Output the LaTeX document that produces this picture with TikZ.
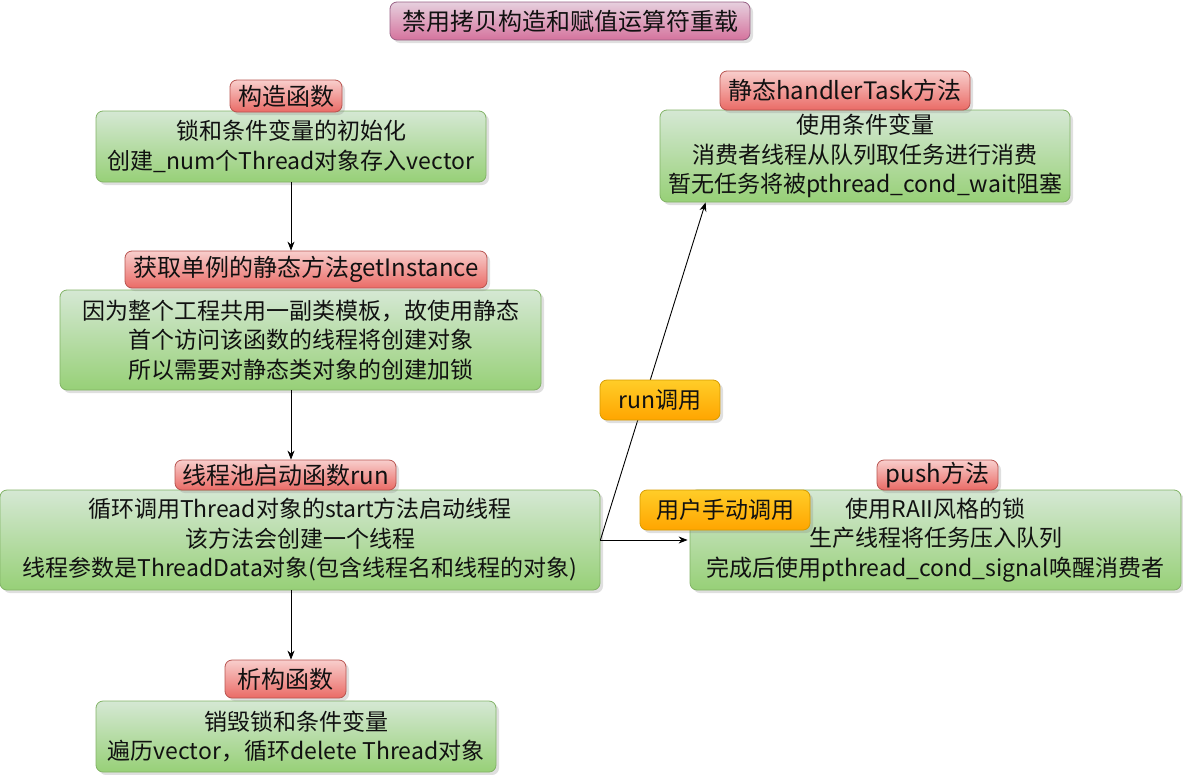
\documentclass[tikz,border=0pt]{standalone}
\usepackage{fontspec}
\setmainfont{Noto Sans CJK SC}
\usetikzlibrary{shadows,arrows.meta,calc}
\definecolor{gtop}{HTML}{D5E8D4}
\definecolor{gbot}{HTML}{97D077}
\definecolor{gline}{HTML}{82B366}
\definecolor{rtop}{HTML}{F8CECC}
\definecolor{rbot}{HTML}{EA6B66}
\definecolor{rline}{HTML}{B85450}
\definecolor{ptop}{HTML}{E6D0DE}
\definecolor{pbot}{HTML}{D5739D}
\definecolor{pline}{HTML}{996185}
\definecolor{otop}{HTML}{FFCD28}
\definecolor{obot}{HTML}{FFA500}
\definecolor{oline}{HTML}{D79B00}
\definecolor{txt}{HTML}{111111}
\tikzset{
  base/.style={rectangle, rounded corners=7pt, inner sep=0pt, align=center, text=txt, line width=0.8pt,
    drop shadow={opacity=0.25, shadow xshift=3pt, shadow yshift=-3pt}},
  gbox/.style={base, draw=gline, top color=gtop, bottom color=gbot, font=\fontsize{23}{29.5}\selectfont},
  rlab/.style={base, draw=rline, top color=rtop, bottom color=rbot, font=\fontsize{24}{28}\selectfont},
  plab/.style={base, draw=pline, top color=ptop, bottom color=pbot, font=\fontsize{24}{28}\selectfont},
  olab/.style={base, draw=oline, top color=otop, bottom color=obot, font=\fontsize{23}{27}\selectfont},
  conn/.style={draw=black, line width=0.9pt, -{Stealth[length=9pt,width=7pt]}}
}
\begin{document}
\begin{tikzpicture}[x=1pt,y=-1pt]
\useasboundingbox (0,0) rectangle (1183,774);
\node[plab, minimum width=360, minimum height=38] (title) at (570,21) {禁用拷贝构造和赋值运算符重载};

\node[gbox, minimum width=390, minimum height=71] (b1) at (291,146.5) {锁和条件变量的初始化\\创建\_num个Thread对象存入vector};
\node[rlab, minimum width=112, minimum height=32] (l1) at (286,96) {构造函数};

\node[gbox, minimum width=481, minimum height=100] (b2) at (300.5,340) {因为整个工程共用一副类模板，故使用静态\\首个访问该函数的线程将创建对象\\所以需要对静态类对象的创建加锁};
\node[rlab, minimum width=362, minimum height=37] (l2) at (306,269.5) {获取单例的静态方法getInstance};

\node[gbox, minimum width=600, minimum height=100] (b3) at (300,540) {循环调用Thread对象的start方法启动线程\\该方法会创建一个线程\\线程参数是ThreadData对象(包含线程名和线程的对象)};
\node[rlab, minimum width=221, minimum height=30] (l3) at (285.5,475) {线程池启动函数run};

\node[gbox, minimum width=400, minimum height=71] (b4) at (296,736.5) {销毁锁和条件变量\\遍历vector，循环delete Thread对象};
\node[rlab, minimum width=121, minimum height=38] (l4) at (285.5,679) {析构函数};

\node[gbox, minimum width=410, minimum height=92] (b5) at (865,156) {使用条件变量\\消费者线程从队列取任务进行消费\\暂无任务将被pthread\_cond\_wait阻塞};
\node[rlab, minimum width=250, minimum height=39] (l5) at (845,90.5) {静态handlerTask方法};

\node[gbox, minimum width=491, minimum height=100] (b6) at (935.5,540) {使用RAII风格的锁\\生产线程将任务压入队列\\完成后使用pthread\_cond\_signal唤醒消费者};
\node[rlab, minimum width=121, minimum height=30] (l6) at (937.5,475) {push方法};

\draw[conn] (b1.south -| b1.south) -- (l2.north -| b1.south);
\draw[conn] (b2.south -| b1.south) -- (l3.north -| b1.south);
\draw[conn] (b3.south -| b1.south) -- (l4.north -| b1.south);
\draw[conn] (b3.east) -- ($(b5.south west)+(46,0)$);
\draw[conn] (b3.east) -- ($(b6.west)+(-2,0)$);

\node[olab, minimum width=120, minimum height=40] (o1) at (660,400) {run调用};
\node[olab, minimum width=170, minimum height=40] (o2) at (725,510) {用户手动调用};
\end{tikzpicture}
\end{document}
